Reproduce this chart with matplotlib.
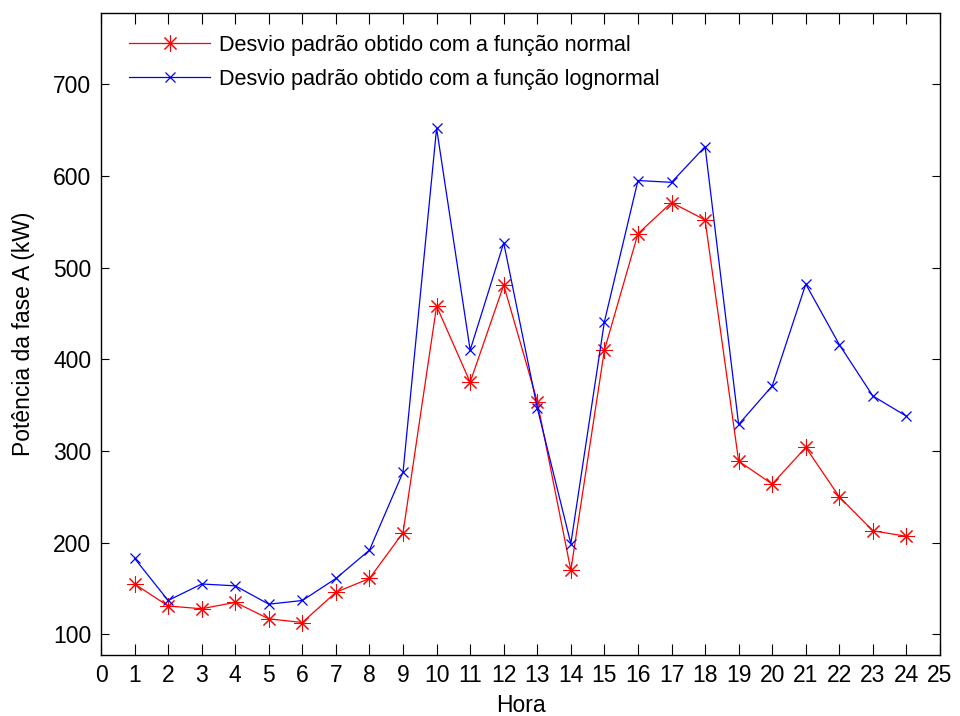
import matplotlib
matplotlib.use("Agg")
import matplotlib.pyplot as plt

plt.rcParams['font.family'] = ['Liberation Sans', 'DejaVu Sans']

hours = list(range(1, 25))
normal_sd = [155, 131, 128, 135, 117, 113, 146, 161, 211, 458, 375, 481,
             354, 170, 410, 537, 571, 552, 289, 264, 304, 250, 213, 207]
lognormal_sd = [183, 137, 155, 153, 133, 137, 161, 192, 277, 652, 410, 527,
                347, 199, 441, 595, 593, 632, 329, 371, 482, 416, 360, 338]
x_ticks = list(range(0, 26))
y_ticks = [100, 200, 300, 400, 500, 600, 700]
label_normal = "Desvio padrão obtido com a função normal"
label_lognormal = "Desvio padrão obtido com a função lognormal"

fig = plt.figure(figsize=(9.6, 7.16), dpi=100)
ax = fig.add_axes([101/960, 1 - 654.6/716, (940-101)/960, (654.6-12.7)/716])

ax.plot(hours, normal_sd, color='#ff0000', lw=0.9, marker=(8, 2, 0),
        markersize=12, markeredgewidth=0.75, label=label_normal)
ax.plot(hours, lognormal_sd, color='#0000ff', lw=0.9, marker='x',
        markersize=7, markeredgewidth=0.9, label=label_lognormal)

ax.set_xlim(0, 25)
ax.set_ylim(78, 778)
ax.set_xticks(x_ticks)
ax.set_yticks(y_ticks)
ax.tick_params(axis='both', direction='in', top=True, right=True,
               labelsize=16.5, width=0.8, pad=7)
ax.tick_params(axis='x', length=8)
ax.tick_params(axis='y', length=6)
for s in ax.spines.values():
    s.set_linewidth(1.0)

ax.set_xlabel("Hora", fontsize=16.5, labelpad=5)
ax.set_ylabel("Potência da fase A (kW)", fontsize=16.5, labelpad=13)

leg = ax.legend(loc='upper left', bbox_to_anchor=(0.0334, 0.966), frameon=False,
                fontsize=15.6, handlelength=3.75, handletextpad=0.42,
                labelspacing=0.62, borderaxespad=0.0, borderpad=0.0)

fig.savefig("out.png", dpi=100)
